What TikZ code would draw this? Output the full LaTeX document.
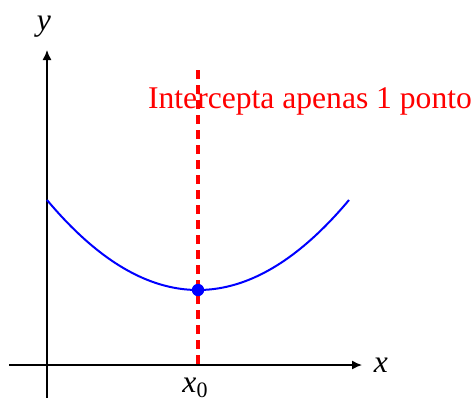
\documentclass[tikz,border=0pt]{standalone}
\usepackage{fontspec}
\setmainfont{Liberation Serif}
\usetikzlibrary{arrows.meta}
\begin{document}
\begin{tikzpicture}[x=0.5pt,y=-0.5pt,
  axis/.style={line width=0.7pt,-{Latex[length=5pt,width=4.5pt]}},
  lbl/.style={font=\fontsize{15.8}{19}\selectfont, inner sep=0pt, anchor=base},
  curve/.style={blue,line width=1pt},
  vline/.style={red,line width=1.6pt,dash pattern=on 4.5pt off 3pt}]
\useasboundingbox (0,0) rectangle (476,397);
\coordinate (xs) at (9,365); \coordinate (xe) at (362,365);
\coordinate (ys) at (47,400); \coordinate (ye) at (47,50);
\draw[axis] (xs) -- (xe);
\draw[axis] (ys) -- (ye);
\node[lbl] (xl) at (381,372) {\textit{x}};
\node[lbl] (yl) at (44,30) {\textit{y}};
\node[lbl,red] (txt) at (310,108) {Intercepta apenas 1 ponto};
\draw[curve] plot[domain=47:349,samples=80,smooth] (\x,{290-90*((\x-198)/151)^2});
\coordinate (dt) at (198,70); \coordinate (db) at (198,365);
\draw[vline] (dt) -- (db);
\node[circle,fill=blue,inner sep=0pt,minimum size=6.2pt] (p) at (198,290) {};
\node[lbl] (x0) at (195,392) {\textit{x}\raisebox{-0.35ex}{\fontsize{11}{13}\selectfont 0}};
\end{tikzpicture}
\end{document}
